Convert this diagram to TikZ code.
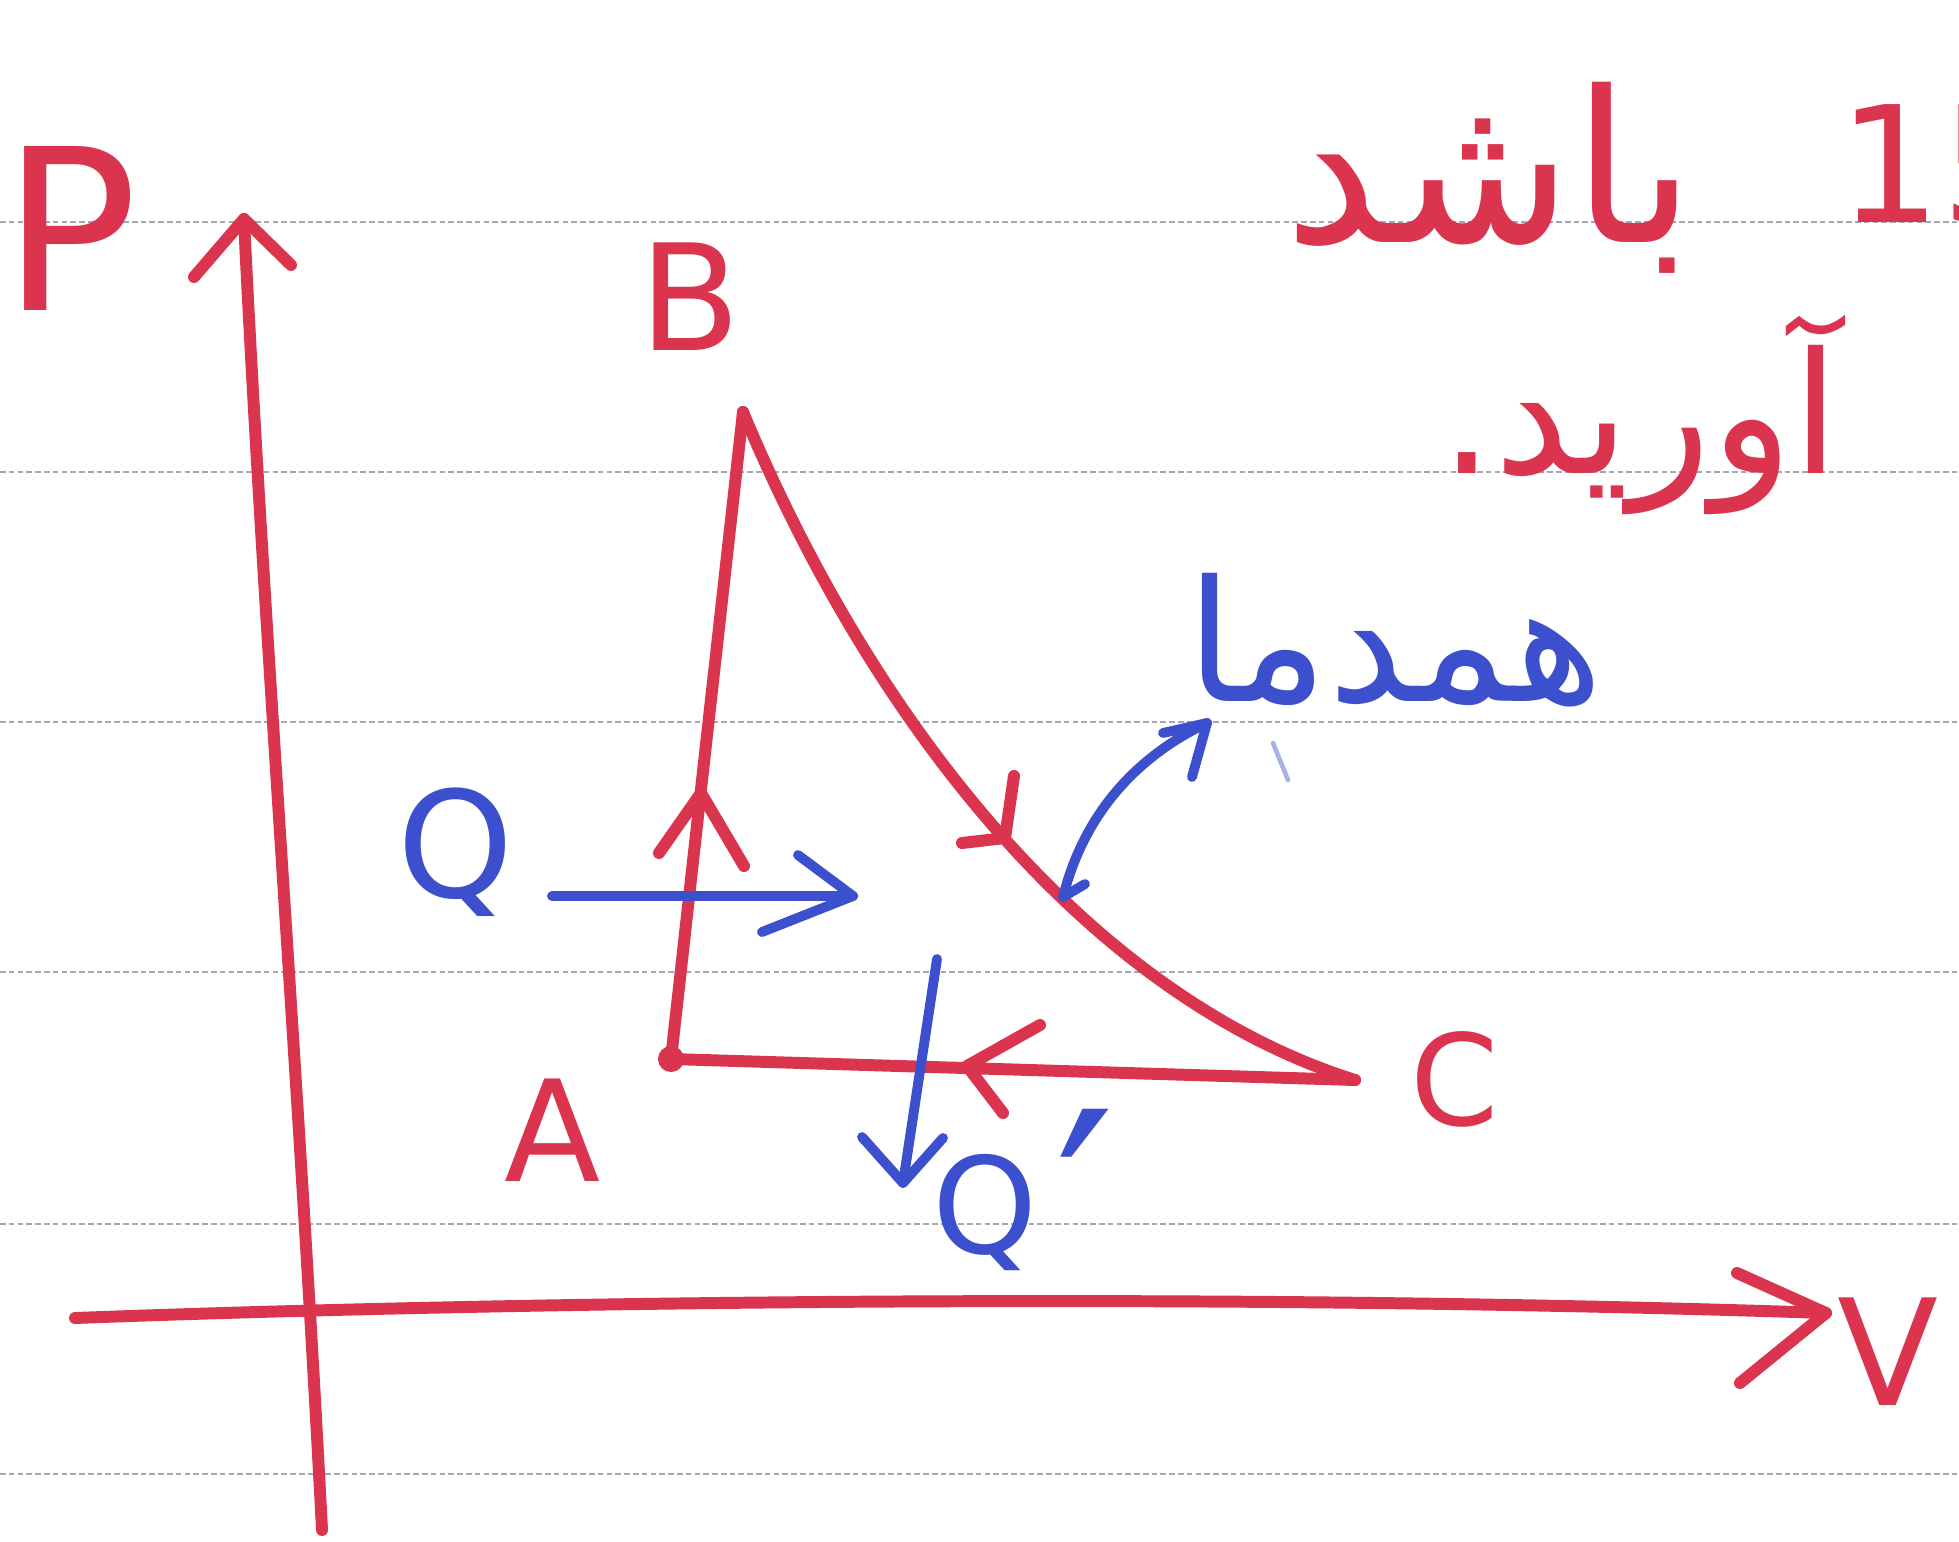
\documentclass[tikz,border=0pt]{standalone}
\usepackage{fontspec}
\setmainfont{DejaVu Sans}
\newfontfamily\fa[Script=Arabic]{DejaVu Sans}
\TeXXeTstate=1
\definecolor{penred}{RGB}{218,52,78}
\definecolor{penblue}{RGB}{60,80,205}
\definecolor{rulegrey}{RGB}{165,165,180}
\begin{document}
\begin{tikzpicture}[x=0.01cm,y=-0.01cm,
  redpen/.style={draw=penred, line width=3.4pt, line cap=round, line join=round},
  bluepen/.style={draw=penblue, line width=2.8pt, line cap=round, line join=round},
  ruled/.style={draw=rulegrey, line width=0.7pt, dash pattern=on 1.6pt off 0.9pt},
  redtxt/.style={text=penred, inner sep=0pt},
  bluetxt/.style={text=penblue, inner sep=0pt}]
\useasboundingbox (0,0) rectangle (1959,1542);
\clip (0,0) rectangle (1959,1542);
\fill[white] (0,0) rectangle (1959,1542);
% notebook rules
\foreach \yy in {222,472,722,972,1224,1474}
  \draw[ruled] (0,\yy) -- (1959,\yy);
% key points
\coordinate (A) at (671,1059);
\coordinate (B) at (743,412);
\coordinate (C) at (1355,1080);
\coordinate (Pbot) at (322,1530);
\coordinate (Ptop) at (244,219);
\coordinate (Vleft) at (75,1318);
\coordinate (Vtip) at (1826,1313);
% axes
\draw[redpen] (Pbot) .. controls (300,1100) and (262,600) .. (Ptop);
\draw[redpen] (194,277) -- (Ptop) -- (291,265);
\draw[redpen] (Vleft) .. controls (500,1302) and (1200,1292) .. (Vtip);
\draw[redpen] (1737,1273) -- (Vtip) -- (1740,1383);
% cycle
\draw[redpen] (A) -- (B);
\draw[redpen] (B) .. controls (880,740) and (1100,1000) .. (C);
\draw[redpen] (C) -- (A);
\fill[penred] (A) circle (13);
% mid arrowheads
\draw[redpen] (659,853) -- (701,793) -- (744,866);
\draw[redpen] (962,843) -- (1005,838) -- (1014,776);
\draw[redpen] (1040,1025) -- (967,1066) -- (1003,1113);
% labels
\node[redtxt, font=\fontsize{64}{64}\selectfont] (Plab) at (70,228) {P};
\node[redtxt, font=\fontsize{42}{42}\selectfont] (Blab) at (690,297) {B};
\node[redtxt, font=\fontsize{40}{40}\selectfont] (Alab) at (553,1130) {A};
\node[redtxt, font=\fontsize{36}{36}\selectfont] (Clab) at (1455,1079) {C};
\node[redtxt, font=\fontsize{42}{42}\selectfont] (Vlab) at (1888,1352) {V};
% heat arrows
\node[bluetxt, font=\fontsize{42}{42}\selectfont] (Q) at (456,852) {Q};
\coordinate (Qs) at (552,896);
\coordinate (Qe) at (853,896);
\draw[bluepen] (Qs) -- (Qe);
\draw[bluepen] (798,855) -- (Qe) -- (762,932);
\coordinate (Q2s) at (937,959);
\coordinate (Q2e) at (903,1183);
\draw[bluepen] (Q2s) -- (Q2e);
\draw[bluepen] (862,1137) -- (Q2e) -- (943,1138);
\node[bluetxt, font=\fontsize{38}{38}\selectfont] (Qp) at (985,1213) {Q};
\node[bluetxt, font=\fontsize{75}{75}\selectfont] (prime) at (1085,1205) {′};
% isothermal
\coordinate (Is) at (1063,897);
\coordinate (Ie) at (1207,723);
\draw[bluepen] (Is) .. controls (1085,810) and (1140,755) .. (Ie);
\draw[bluepen] (1163,733) -- (Ie) -- (1192,777);
\draw[bluepen] (Is) -- (1085,884);
\draw[draw=penblue!45, line width=1.3pt, line cap=round] (1273,743) -- (1288,780);
\node[bluetxt, font=\fa\fontsize{48}{48}\selectfont] (iso) at (1395,640) {\beginR همدما\endR};
% top text
\node[redtxt, font=\fa\fontsize{60}{60}\selectfont] (t1) at (1490,178) {\beginR باشد\endR};
\node[redtxt, font=\fontsize{46}{46}\selectfont, anchor=west] (t15) at (1838,165) {15};
\node[redtxt, font=\fa\fontsize{48}{48}\selectfont] (t2) at (1640,415) {\beginR آورید.\endR};
\end{tikzpicture}
\end{document}
